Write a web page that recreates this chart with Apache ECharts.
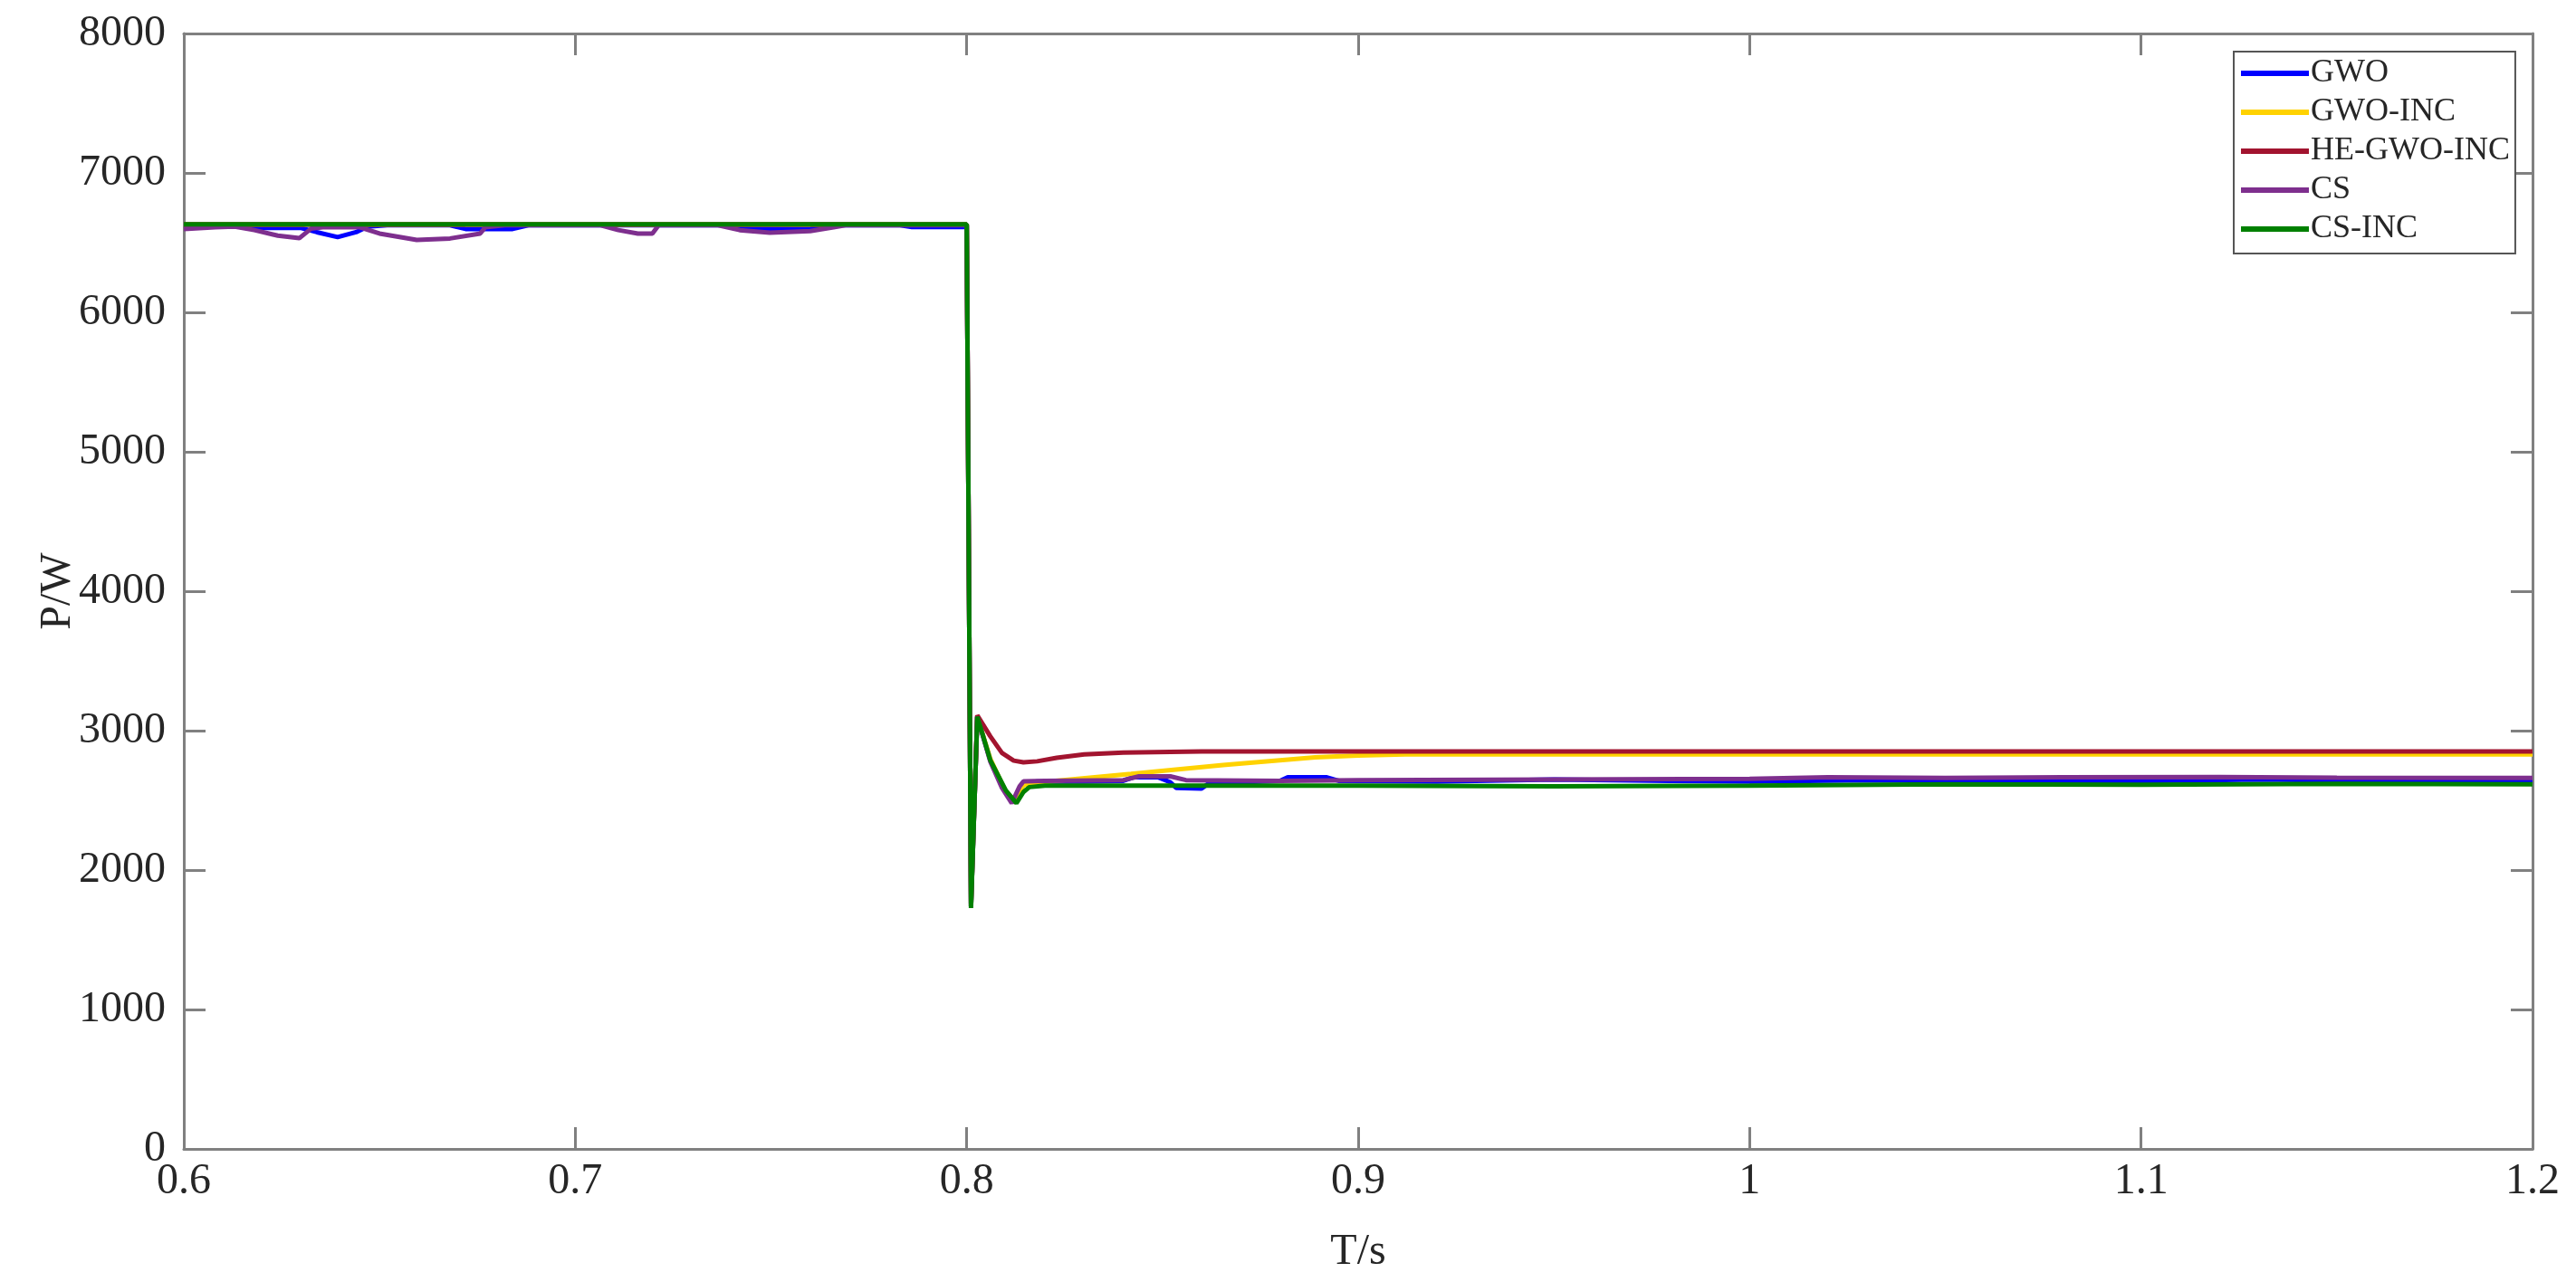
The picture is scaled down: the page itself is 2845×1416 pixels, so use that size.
<!DOCTYPE html>
<html>
<head>
<meta charset="utf-8">
<script src="https://cdn.jsdelivr.net/npm/echarts@6/dist/echarts.min.js"></script>
<style>
html,body{margin:0;padding:0;background:#fff;}
#chart{width:2845px;height:1416px;}
</style>
</head>
<body>
<div id="chart"></div>
<script>
// ---- data (time in s, power in W) ----
const seriesNames = ['GWO', 'GWO-INC', 'HE-GWO-INC', 'CS', 'CS-INC'];
const xTicks = [0.6, 0.7, 0.8, 0.9, 1.0, 1.1, 1.2];
const yTicks = [0, 1000, 2000, 3000, 4000, 5000, 6000, 7000, 8000];

const GWO = [
  [0.6,6625],[0.612,6625],[0.616,6605],[0.630,6605],[0.634,6575],[0.6393,6540],[0.644,6575],
  [0.647,6615],[0.652,6625],[0.668,6625],[0.672,6598],[0.684,6598],[0.688,6625],[0.738,6625],
  [0.742,6600],[0.760,6598],[0.764,6625],[0.783,6625],[0.786,6612],[0.7995,6612],
  [0.8000,6620],[0.8011,1740],[0.8027,3100],[0.806,2790],[0.810,2560],[0.8125,2490],[0.8145,2620],
  [0.818,2635],[0.830,2635],[0.840,2640],[0.8425,2665],[0.849,2665],[0.852,2630],[0.8535,2590],
  [0.860,2585],[0.862,2625],[0.870,2630],[0.880,2640],[0.882,2665],[0.892,2665],[0.895,2640],
  [0.920,2635],[0.950,2650],[0.980,2640],[1.000,2635],[1.030,2645],[1.060,2640],[1.100,2638],
  [1.130,2650],[1.160,2640],[1.200,2636]
];
const GWO_INC = [
  [0.6,6630],[0.8000,6630],[0.8011,1740],[0.8027,3100],[0.806,2800],[0.810,2560],[0.8125,2495],
  [0.8145,2610],[0.819,2630],[0.842,2690],[0.8655,2753],[0.889,2808],[0.900,2822],[0.912,2830],
  [1.200,2830]
];
const HE_GWO_INC = [
  [0.6,6630],[0.8000,6630],[0.8011,1760],[0.8027,3110],[0.806,2960],[0.809,2840],[0.812,2785],
  [0.8145,2773],[0.818,2780],[0.823,2805],[0.830,2830],[0.840,2843],[0.860,2850],[1.200,2850]
];
const CS = [
  [0.6,6598],[0.608,6610],[0.613,6615],[0.618,6590],[0.624,6550],[0.6295,6532],[0.6325,6600],
  [0.636,6612],[0.645,6610],[0.650,6565],[0.6595,6519],[0.668,6530],[0.6757,6565],[0.677,6610],
  [0.682,6625],[0.7065,6625],[0.711,6590],[0.716,6565],[0.7197,6565],[0.7213,6625],[0.7365,6625],
  [0.742,6590],[0.7497,6571],[0.760,6583],[0.766,6610],[0.769,6625],[0.7995,6625],
  [0.8000,6625],[0.8011,1740],[0.8027,3100],[0.806,2780],[0.809,2590],[0.8115,2480],[0.8135,2600],
  [0.8145,2636],[0.820,2640],[0.840,2645],[0.844,2672],[0.852,2672],[0.856,2645],[0.880,2640],
  [0.900,2645],[0.950,2650],[1.000,2655],[1.020,2665],[1.050,2660],[1.080,2665],[1.120,2668],
  [1.150,2662],[1.200,2660]
];
const CS_INC = [
  [0.6,6632],[0.8000,6632],[0.8011,1727],[0.8027,3100],[0.806,2790],[0.810,2570],[0.8127,2480],
  [0.8145,2560],[0.816,2595],[0.820,2605],[0.900,2605],[0.950,2600],[1.000,2605],[1.050,2615],
  [1.100,2612],[1.150,2618],[1.200,2615]
];
const seriesData = [GWO, GWO_INC, HE_GWO_INC, CS, CS_INC];
const seriesColors = ['#0000FF', '#FFD200', '#A2142F', '#7E2F8E', '#008000'];

// ---- chart ----
const FONT = "'Liberation Serif','Times New Roman',serif";
const AX = '#808080';
const TXT = '#262626';
const chart = echarts.init(document.getElementById('chart'));

function fmtX(v) { return String(parseFloat(v.toFixed(1))); }
function fmtY(v) { return String(Math.round(v)); }

const baseAxis = {
  splitLine: { show: false },
  axisLine: { show: true, onZero: false, lineStyle: { color: AX, width: 3 } },
  axisTick: { show: true, inside: true, length: 24, lineStyle: { color: AX, width: 3 } }
};

chart.setOption({
  animation: false,
  backgroundColor: '#fff',
  grid: { left: 203, right: 48, top: 37, bottom: 147, containLabel: false },
  graphic: [{
    type: 'text',
    x: 64, y: 653,
    rotation: Math.PI / 2,
    style: {
      text: 'P/W', fontFamily: FONT, fontSize: 48, fill: TXT,
      align: 'center', verticalAlign: 'middle'
    }
  }],
  legend: {
    orient: 'vertical',
    left: 2467, top: 57,
    data: seriesNames,
    icon: 'rect',
    itemWidth: 75, itemHeight: 6, itemGap: 5,
    padding: [5, 6, 8, 8],
    borderColor: '#555', borderWidth: 2, backgroundColor: '#fff',
    textStyle: { fontFamily: FONT, fontSize: 36, lineHeight: 38, color: TXT, padding: [0,0,0,-3] }
  },
  xAxis: [
    Object.assign({}, baseAxis, {
      type: 'value', position: 'bottom',
      min: xTicks[0], max: xTicks[xTicks.length - 1], interval: 0.1,
      axisLabel: { fontFamily: FONT, fontSize: 48, color: TXT, margin: 12, formatter: fmtX },
      name: 'T/s', nameLocation: 'middle', nameGap: 90,
      nameTextStyle: { fontFamily: FONT, fontSize: 48, color: TXT }
    }),
    Object.assign({}, baseAxis, {
      type: 'value', position: 'top',
      min: xTicks[0], max: xTicks[xTicks.length - 1], interval: 0.1,
      axisLabel: { show: false }
    })
  ],
  yAxis: [
    Object.assign({}, baseAxis, {
      type: 'value', position: 'left',
      min: yTicks[0], max: yTicks[yTicks.length - 1], interval: 1000,
      axisLabel: { fontFamily: FONT, fontSize: 48, color: TXT, margin: 20, formatter: fmtY }
    }),
    Object.assign({}, baseAxis, {
      type: 'value', position: 'right',
      min: yTicks[0], max: yTicks[yTicks.length - 1], interval: 1000,
      axisLabel: { show: false }
    })
  ],
  series: seriesNames.map((n, i) => ({
    name: n,
    type: 'line',
    xAxisIndex: 0, yAxisIndex: 0,
    data: seriesData[i],
    symbol: 'none', showSymbol: false,
    smooth: false,
    clip: true,
    color: seriesColors[i],
    lineStyle: { color: seriesColors[i], width: 5 },
    z: 2 + i
  }))
});
</script>
</body>
</html>
